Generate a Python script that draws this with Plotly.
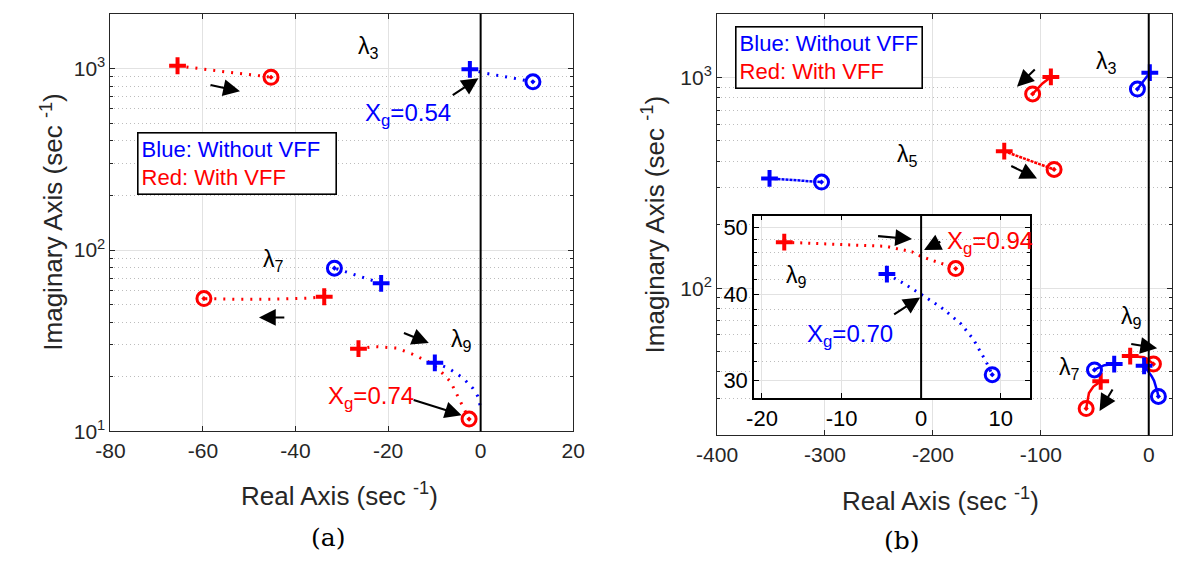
import math
import plotly.graph_objects as go

BLUE = '#0000ff'
RED = '#ff0000'
AX = '#262626'
FONT = 'Liberation Sans'

# ---------------- Panel (a) data ----------------
a_l3_red_x = [-65.5, -61.5, -56.7, -51.1, -45.3]
a_l3_red_y = [1038, 1004, 971, 936, 897]
a_l3_blue_x = [-2.33, 1.13, 5.14, 8.35, 11.3]
a_l3_blue_y = [992, 943, 905, 875, 847]
a_l7_blue_x = [-21.5, -26.5, -31.6]
a_l7_blue_y = [65.6, 72.0, 79.5]
a_l7_red_x = [-33.8, -37.5, -45.0, -52.0, -59.8]
a_l7_red_y = [55.3, 54.3, 53.6, 53.5, 54.0]
a_l9_red_x = [-26.4, -23.0, -18.2, -14.9, -11.3, -8.9, -6.5, -2.5]
a_l9_red_y = [28.6, 29.4, 28.8, 26.8, 24.2, 21.8, 18.8, 11.7]
a_l9_blue_x = [-9.9, -6.9, -3.7, -1.7, -0.6, 0.0]
a_l9_blue_y = [23.9, 22.3, 19.6, 17.3, 15.6, 13.5]

# ---------------- Panel (b) data ----------------
b_l3_red_x = [-90.7, -98.5, -107.6]
b_l3_red_y = [1007, 937, 836]
b_l3_blue_x = [1.0, -4.0, -10.5]
b_l3_blue_y = [1055, 972, 882]
b_l5_red_x = [-133.9, -110.3, -87.7]
b_l5_red_y = [447, 404, 366]
b_l5_blue_x = [-351.4, -329.5, -303.2]
b_l5_blue_y = [332, 326, 319]
b_l7_red_x = [-44.5, -51.3, -55.4, -57.1, -58.0]
b_l7_red_y = [36.1, 34.1, 31.8, 29.0, 26.8]
b_l7_blue_x = [-32.0, -41.1, -46.2, -50.3]
b_l7_blue_y = [43.6, 43.1, 42.0, 40.9]
b_l9_red_x = [-17.2, -10.5, -4.4, -1.14, 0.08, 2.93, 4.35]
b_l9_red_y = [47.6, 47.3, 46.95, 46.1, 45.35, 44.2, 43.6]
b_l9_blue_x = [-4.3, -2.36, 0.0, 2.52, 4.96, 6.59, 8.2, 8.94]
b_l9_blue_y = [42.8, 41.6, 40.0, 38.3, 36.3, 34.4, 31.9, 30.6]

# tick labels
a_xticks = [-80, -60, -40, -20, 0, 20]
b_xticks = [-400, -300, -200, -100, 0]
inset_xticks = [-20, -10, 0, 10]
inset_yticks = [30, 40, 50]
log_major = [10, 100, 1000]
log_major_text = ['10<sup>1</sup>', '10<sup>2</sup>', '10<sup>3</sup>']
log_minor = [20, 30, 40, 50, 60, 70, 80, 90, 200, 300, 400, 500, 600, 700, 800, 900, 2000]
inset_minor = [32, 34, 36, 38, 42, 44, 46, 48]

W, H = 1186, 566


def px(x):
    return x / W


def py(y):
    return 1 - y / H


fig = go.Figure()

DOT_A = '2px,7px'
DOT_I = '2px,6px'


def curve(xs, ys, color, axis, dash, width, end_marker=True):
    xa, ya = axis
    fig.add_trace(go.Scatter(x=xs, y=ys, mode='lines',
                             line=dict(color=color, width=width, dash=dash),
                             xaxis=xa, yaxis=ya, showlegend=False, hoverinfo='skip'))
    fig.add_trace(go.Scatter(x=[xs[0]], y=[ys[0]], mode='markers',
                             marker=dict(symbol='cross-thin', size=12,
                                         line=dict(color=color, width=4)),
                             xaxis=xa, yaxis=ya, showlegend=False, hoverinfo='skip'))
    if end_marker:
        fig.add_trace(go.Scatter(x=[xs[-1]], y=[ys[-1]], mode='markers',
                                 marker=dict(symbol='circle-open-dot', size=14, color=color,
                                             line=dict(color=color, width=3)),
                                 xaxis=xa, yaxis=ya, showlegend=False, hoverinfo='skip'))


A = ('x', 'y')
B = ('x2', 'y2')
I = ('x3', 'y3')

curve(a_l3_red_x, a_l3_red_y, RED, A, DOT_A, 3)
curve(a_l3_blue_x, a_l3_blue_y, BLUE, A, DOT_A, 3)
curve(a_l7_blue_x, a_l7_blue_y, BLUE, A, DOT_A, 3)
curve(a_l7_red_x, a_l7_red_y, RED, A, DOT_A, 3)
curve(a_l9_red_x, a_l9_red_y, RED, A, DOT_A, 3)
curve(a_l9_blue_x, a_l9_blue_y, BLUE, A, DOT_A, 3, end_marker=False)

curve(b_l3_red_x, b_l3_red_y, RED, B, 'solid', 2.5)
curve(b_l3_blue_x, b_l3_blue_y, BLUE, B, 'solid', 2.5)
curve(b_l5_red_x, b_l5_red_y, RED, B, '3px,1px', 2.5)
curve(b_l5_blue_x, b_l5_blue_y, BLUE, B, '3px,1px', 2.5)
curve(b_l7_red_x, b_l7_red_y, RED, B, 'solid', 2.5)
curve(b_l7_blue_x, b_l7_blue_y, BLUE, B, 'solid', 2.5)
curve(b_l9_red_x, b_l9_red_y, RED, B, 'solid', 2.5)
curve(b_l9_blue_x, b_l9_blue_y, BLUE, B, 'solid', 2.5)

curve(b_l9_red_x, b_l9_red_y, RED, I, DOT_I, 3)
curve(b_l9_blue_x, b_l9_blue_y, BLUE, I, DOT_I, 3)

# ---------------- axes ----------------
TICKFONT = dict(family=FONT, size=21, color=AX)
base = dict(showline=True, linecolor=AX, linewidth=1, mirror='ticks', ticks='inside',
            ticklen=5, tickcolor=AX, showgrid=True, gridcolor='#e2e2e2', gridwidth=1.3,
            zeroline=False, tickfont=TICKFONT)

minor_log = dict(tickvals=log_minor, showgrid=True, gridcolor='#bdbdbd', griddash='1px,3px',
                 gridwidth=1, ticks='inside', ticklen=3, tickcolor=AX)

IFONT = dict(family=FONT, size=22, color='black')

fig.update_layout(
    width=W, height=H, margin=dict(l=0, r=0, t=0, b=0), autosize=False,
    paper_bgcolor='white', plot_bgcolor='white', showlegend=False,
    xaxis=dict(base, domain=[px(92), px(568)], range=[-80, 20], anchor='y',
               tickvals=a_xticks, ticktext=[str(v) for v in a_xticks]),
    yaxis=dict(base, type='log', domain=[py(440), py(14)], range=[1, 3.303], anchor='x',
               tickvals=log_major, ticktext=log_major_text, minor=minor_log),
    xaxis2=dict(base, domain=[px(716), px(1184)], range=[-400, 21.6], anchor='y2',
                tickvals=b_xticks, ticktext=[str(v) for v in b_xticks]),
    yaxis2=dict(base, type='log', domain=[py(444), py(14)], range=[math.log10(20), 3.303],
                anchor='x2', tickvals=log_major, ticktext=log_major_text, minor=minor_log),
    xaxis3=dict(base, domain=[px(754), px(1038)], range=[-21, 13.7], anchor='y3',
                linecolor='black', linewidth=1.5, tickcolor='black', tickfont=IFONT,
                tickvals=inset_xticks, ticktext=[str(v) for v in inset_xticks]),
    yaxis3=dict(base, type='log', domain=[py(406), py(220)],
                range=[math.log10(28.3), math.log10(52)], anchor='x3',
                linecolor='black', linewidth=1.5, tickcolor='black', tickfont=IFONT,
                tickvals=inset_yticks, ticktext=[str(v) for v in inset_yticks],
                minor=dict(tickvals=inset_minor, showgrid=True, gridcolor='#bdbdbd',
                           griddash='1px,3px', ticks='inside', ticklen=3, tickcolor='black')),
)

# vertical black lines at x = 0
for xr, yr in [('x', 'y domain'), ('x2', 'y2 domain'), ('x3', 'y3 domain')]:
    fig.add_shape(type='line', xref=xr, yref=yr, x0=0, x1=0, y0=0, y1=1,
                  line=dict(color='black', width=2))

anns = []
L = math.log10


def text(x, y, s, xr, yr, color='black', size=23, xanchor='center'):
    anns.append(dict(x=x, y=L(y), xref=xr, yref=yr, text=s, showarrow=False,
                     font=dict(family=FONT, size=size, color=color), xanchor=xanchor))


def arrow(x0, y0, x1, y1, xr, yr):
    anns.append(dict(x=x1, y=L(y1), ax=x0, ay=L(y0), xref=xr, yref=yr, axref=xr, ayref=yr,
                     text='', showarrow=True, arrowhead=2, arrowsize=1.6, arrowwidth=2.1,
                     arrowcolor='black'))


LAM3 = 'λ<sub>3</sub>'
LAM5 = 'λ<sub>5</sub>'
LAM7 = 'λ<sub>7</sub>'
LAM9 = 'λ<sub>9</sub>'

# panel (a)
text(-24.2, 1316, LAM3, 'x', 'y')
text(-44.7, 88, LAM7, 'x', 'y')
text(-4.1, 31.8, LAM9, 'x', 'y')
text(-15.7, 561, 'X<sub>g</sub>=0.54', 'x', 'y', BLUE, 24)
text(-23.8, 15.3, 'X<sub>g</sub>=0.74', 'x', 'y', RED, 24)
arrow(-58.7, 816, -52.0, 750, 'x', 'y')
arrow(-6.35, 705, -0.48, 887, 'x', 'y')
arrow(-42.1, 42.5, -47.9, 42.5, 'x', 'y')
arrow(-16.9, 35.2, -11.2, 30.7, 'x', 'y')
arrow(-14.8, 15.0, -4.1, 12.3, 'x', 'y')

# panel (b)
text(-39.5, 1183, LAM3, 'x2', 'y2')
text(-223.3, 427, LAM5, 'x2', 'y2')
text(-16, 72.4, LAM9, 'x2', 'y2')
text(-73.2, 41.6, LAM7, 'x2', 'y2')
arrow(-104.2, 1109, -122.1, 905, 'x2', 'y2')
arrow(-128.8, 383, -103.5, 332, 'x2', 'y2')
arrow(-17.6, 54.5, 7.8, 51.9, 'x2', 'y2')
arrow(-32.7, 33.6, -45.6, 26.1, 'x2', 'y2')

# inset
text(-15.6, 42.5, LAM9, 'x3', 'y3')
text(8.6, 47.6, 'X<sub>g</sub>=0.94', 'x3', 'y3', RED, 24)
text(-8.9, 34.9, 'X<sub>g</sub>=0.70', 'x3', 'y3', BLUE, 24)
arrow(-5.6, 48.6, -1.14, 48.1, 'x3', 'y3')
arrow(2.6, 47.8, 0.37, 46.4, 'x3', 'y3')
arrow(-3.58, 37.3, -0.12, 39.6, 'x3', 'y3')

LEG_A = ("<span style='color:#0000ff'>Blue: Without VFF&nbsp;&nbsp;</span><br>"
         "<span style='color:#ff0000'>Red: With VFF</span>")
LEG_B = ("<span style='color:#0000ff'>Blue: Without VFF</span><br>"
         "<span style='color:#ff0000'>Red: With VFF</span>")
anns.append(dict(x=px(119), y=py(166.5), xref='paper', yref='paper', xanchor='left',
                 yanchor='middle', text=LEG_A, showarrow=False, align='left',
                 font=dict(family=FONT, size=22), bordercolor='black', borderwidth=1.6,
                 borderpad=3, bgcolor='white'))
anns.append(dict(x=px(734), y=py(58.5), xref='paper', yref='paper', xanchor='left',
                 yanchor='middle', text=LEG_B, showarrow=False, align='left',
                 font=dict(family=FONT, size=22), bordercolor='black', borderwidth=1.6,
                 borderpad=3, bgcolor='white'))

# axis titles
TX = 'Real Axis (sec <sup>-1</sup>)'
TY = 'Imaginary Axis (sec <sup>-1</sup>)'
for xc, yc, s, ang in [(328, 504, TX, 0), (32, 227, TY, -90),
                       (946, 509, TX, 0), (651, 229, TY, -90)]:
    anns.append(dict(x=px(xc), y=py(yc), xref='paper', yref='paper', text=s, showarrow=False,
                     textangle=ang, font=dict(family=FONT, size=26, color=AX),
                     xanchor='center', yanchor='middle'))

for xc, yc, s in [(316, 548, '(a)'), (906, 551, '(b)')]:
    anns.append(dict(x=px(xc), y=py(yc), xref='paper', yref='paper', text=s, showarrow=False,
                     font=dict(family='DejaVu Serif', size=25, color='black'),
                     xanchor='center', yanchor='middle'))

fig.update_layout(annotations=anns)
fig.write_html('out.html')
